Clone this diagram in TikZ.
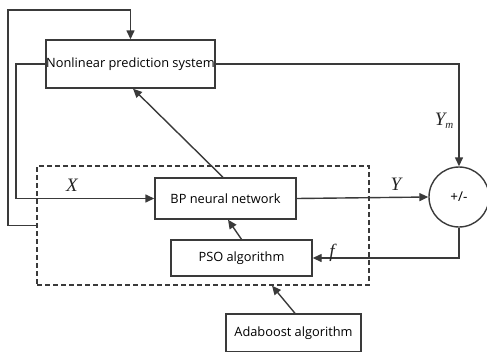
\documentclass[tikz,border=0pt]{standalone}
\usepackage{fontspec}
\setmainfont{Open Sans}
\newfontfamily\lblfont{Liberation Serif}
\usetikzlibrary{arrows.meta}
\definecolor{linegray}{HTML}{3A3A3A}
\begin{document}
\begin{tikzpicture}[x=1pt,y=-1pt,
	line width=1.4pt, draw=linegray, >={Triangle[length=9pt,width=8pt]},
	block/.style={draw=linegray, rectangle, inner sep=0pt, font=\fontsize{12.8}{14}\selectfont},
	lbl/.style={font=\fontsize{19}{20}\selectfont\lblfont\itshape, text=black!85}]
	\useasboundingbox (0,0) rectangle (487,351);
	\node[block, minimum width=169, minimum height=48] (nps) at (130.5,64) {Nonlinear prediction system};
	\node[draw=linegray, dash pattern=on 5pt off 3pt, minimum width=332, minimum height=119] (dash) at (203,225.5) {};
	\node[block, fill=white, minimum width=141, minimum height=41] (bp) at (225.5,198.5) {BP neural network};
	\node[block, fill=white, minimum width=141, minimum height=36] (pso) at (241.5,258) {PSO algorithm};
	\node[block, minimum width=135, minimum height=38] (ada) at (293.5,333) {Adaboost algorithm};
	\node[draw=linegray, circle, minimum size=60, inner sep=0pt, font=\fontsize{13.5}{14}\selectfont] (sum) at (459,197) {+/-};
	% feedback round the outside
	\draw[->] (dash.west) -- (8,225.5) -- (8,10) -| (nps.north);
	\draw[->] (nps.west) -- (16,64) |- (bp.west);
	\draw[->] (nps.east) -| (sum.north);
	\draw[->] (bp.east) -- (sum.west);
	\draw[->] (sum.south) |- (pso.east);
	\draw[->] (pso.north) -- ([xshift=2.5]bp.south);
	\draw[->] ([xshift=-2.5]bp.north) -- ([xshift=2.5]nps.south);
	\draw[->] ([xshift=1.5]ada.north) -- ([xshift=69]dash.south);
	% signal names
	\node[lbl] (lx) at (72,185) {X};
	\node[lbl] (ly) at (396,184) {Y};
	\node[lbl] (lym) at (444,121) {Y\raisebox{-0.35ex}{\fontsize{11}{12}\selectfont m}};
	\node[lbl] (lf) at (332,253) {f};
\end{tikzpicture}
\end{document}
